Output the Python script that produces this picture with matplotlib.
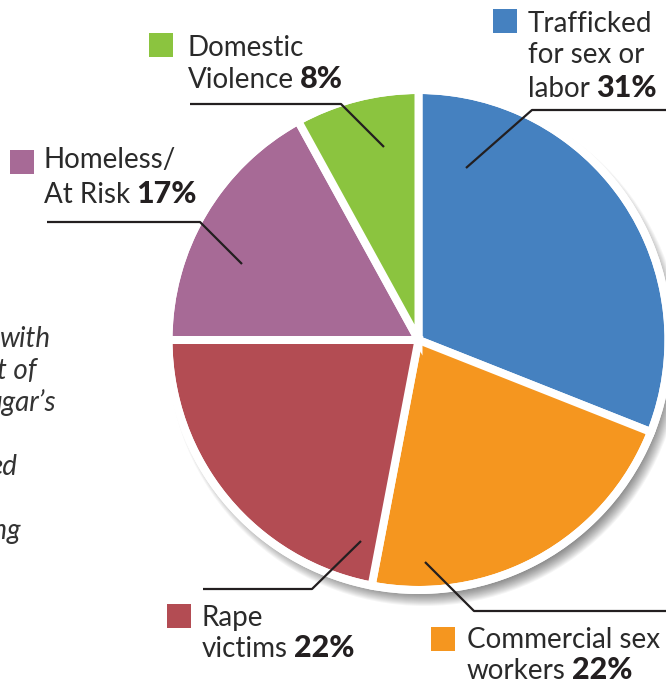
import matplotlib
matplotlib.use("Agg")
import matplotlib.pyplot as plt
from matplotlib.patches import Circle, Rectangle
from matplotlib.lines import Line2D

# ---- data ----
categories = ["Trafficked\nfor sex or\nlabor", "Commercial sex\nworkers", "Rape\nvictims",
              "Homeless/\nAt Risk", "Domestic\nViolence"]
values = [31, 22, 22, 17, 8]
pct_labels = ["31%", "22%", "22%", "17%", "8%"]
colors = ["#4581C0", "#F5961F", "#B34C53", "#A76A96", "#8BC43F"]
side_text = ["with", "t of", "ugar\u2019s", "ed", "ing"]

W, H = 666, 683
FONT = "Lato"
TXT = "#231F20"

fig = plt.figure(figsize=(W / 100, H / 100), dpi=100)
ax = fig.add_axes([0, 0, 1, 1])

def Y(y):
    return H - y

cx, cy, R = 418.5, 340, 246
lw_px = 8
lw_pt = lw_px * 72 / 100

# shadow (soft, offset down-right)
for i in range(16):
    ax.add_patch(Circle((cx + 6, Y(cy) - 9), R + lw_px / 2 + 7 - i, facecolor="black",
                        edgecolor="none", alpha=0.04, zorder=1))

wedges, _ = ax.pie(values, colors=colors, startangle=90, counterclock=False,
                   center=(cx, Y(cy)), radius=R + lw_px / 2,
                   wedgeprops=dict(edgecolor="white", linewidth=lw_pt, zorder=2))
for w in wedges:
    w.set_zorder(2)
ax.add_patch(Circle((cx, Y(cy)), R + lw_px / 2, fill=False, edgecolor="white",
                    linewidth=lw_pt, zorder=3))

ax.set_xlim(0, W)
ax.set_ylim(0, H)
ax.set_aspect("auto")
ax.axis("off")

fig.canvas.draw()
renderer = fig.canvas.get_renderer()

FS = 20
FSB = 22
# legend-style labels: (square x, square y top, text x, baselines)
label_layout = [
    (493, 9, 528, [32, 63, 97]),
    (431, 627, 467, [648, 679]),
    (167, 604, 202, [626, 657]),
    (10, 150, 44, [168, 203]),
    (149, 33, 188, [56, 88]),
]
for i, (sx, sy, tx, bls) in enumerate(label_layout):
    ax.add_patch(Rectangle((sx, Y(sy + 24)), 24, 24, facecolor=colors[i],
                           edgecolor="none", zorder=5))
    lines = categories[i].split("\n")
    for j, line in enumerate(lines):
        t = ax.text(tx, Y(bls[j]), line, fontsize=FS, family=FONT, color="#2a2a2a",
                    va="baseline", ha="left", zorder=6)
    bb = t.get_window_extent(renderer=renderer)
    ax.text(bb.x1 + 6, Y(bls[-1]), pct_labels[i], fontsize=FSB, family=FONT,
            fontweight="black", color=TXT, va="baseline", ha="left", zorder=6)

# leader lines
leaders = [
    [(466, 168), (532, 110), (670, 110)],
    [(425, 562), (474, 611), (670, 611)],
    [(361, 541), (312, 589), (203, 589)],
    [(242, 264), (200, 222), (47, 222)],
    [(384, 147), (341, 104), (190, 104)],
]
for pts in leaders:
    ax.add_line(Line2D([p[0] for p in pts], [Y(p[1]) for p in pts], color=TXT,
                       linewidth=1.6, zorder=7, solid_capstyle="butt"))

# partly hidden italic paragraph at left edge
side_right = [51, 37, 56, 17, 21]
side_base = [347, 379, 411, 475, 539]
for s, xr, yb in zip(side_text, side_right, side_base):
    ax.text(xr, Y(yb), s, fontsize=20, family=FONT, style="italic", color="#333333",
            va="baseline", ha="right", zorder=6)

fig.savefig("out.png", dpi=100)
